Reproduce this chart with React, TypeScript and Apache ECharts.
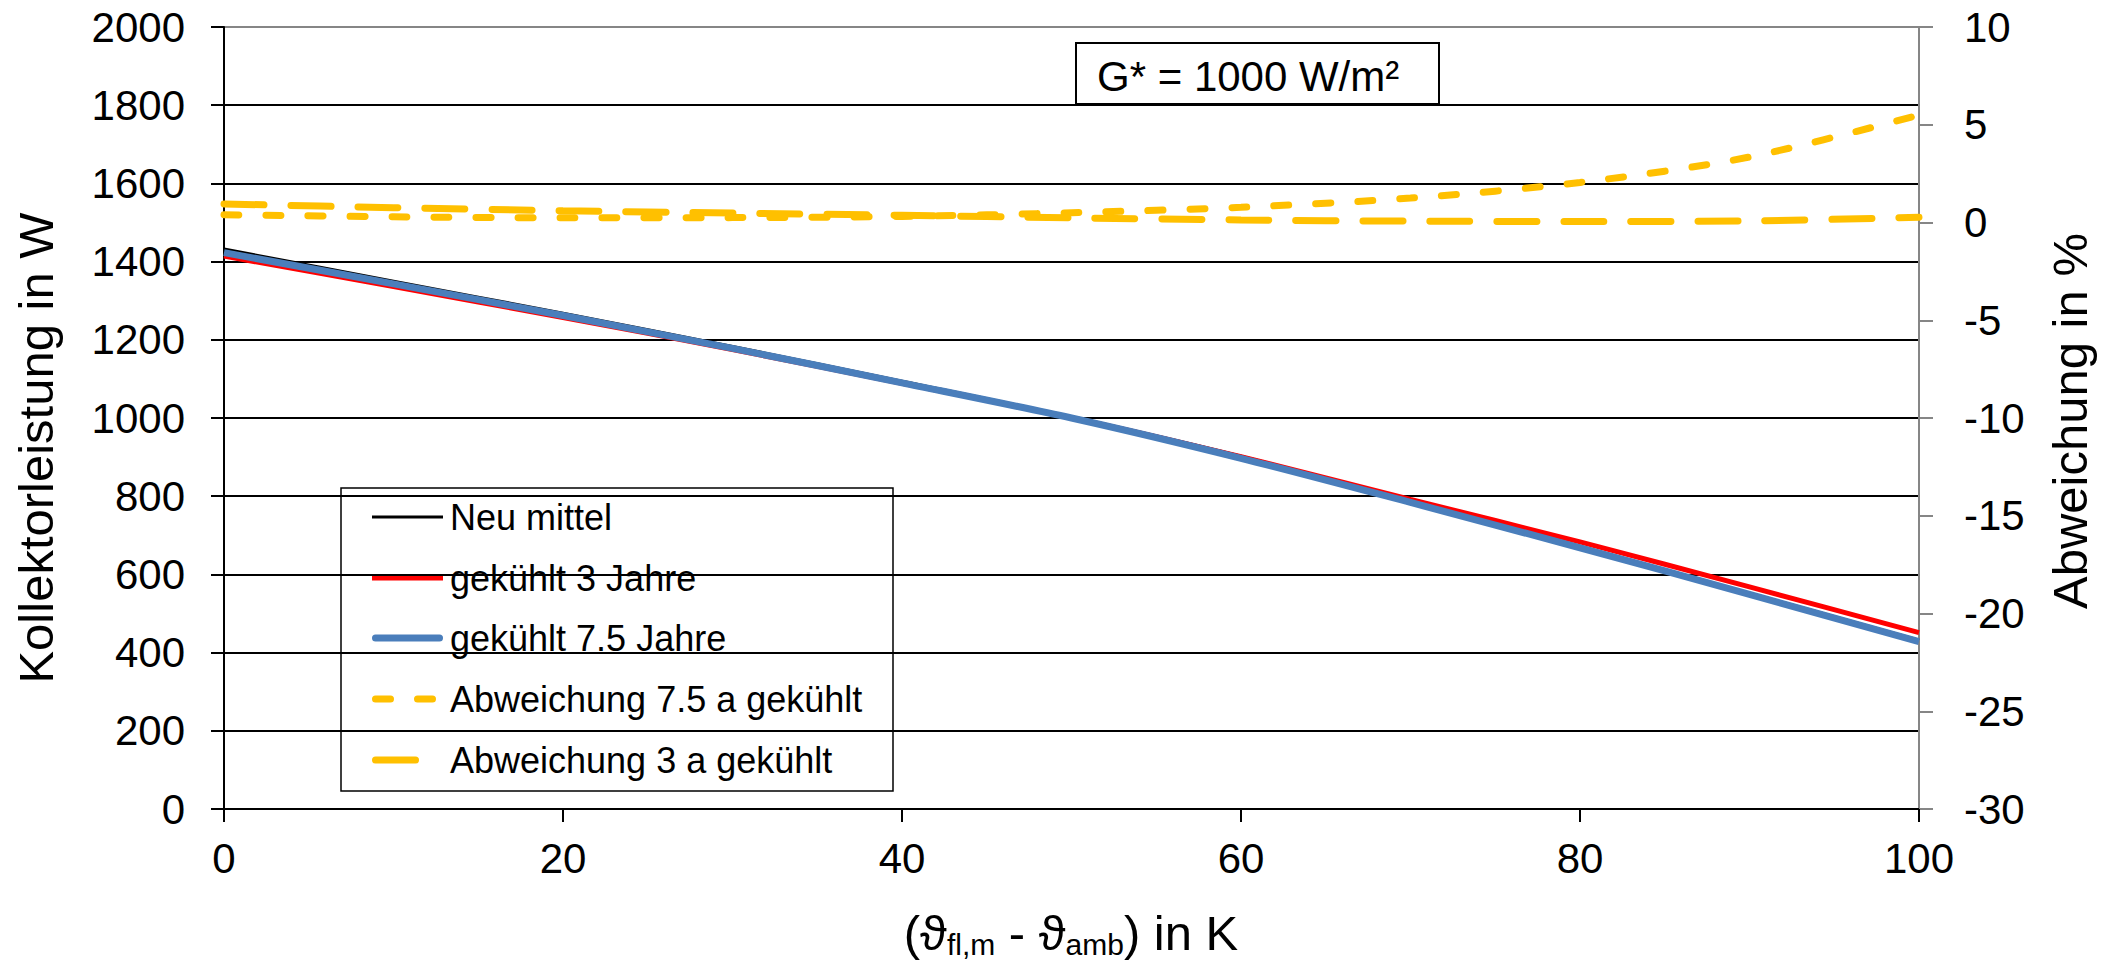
import React, { useEffect, useRef } from 'react';
import * as echarts from 'echarts';

const tempDiff = [0, 10, 20, 30, 40, 50, 60, 70, 80, 90, 100];
const neuMittel = [1432, 1350, 1268, 1183, 1094, 1003, 902, 788, 672, 552, 432];
const gekuehlt3 = [1414, 1336, 1257, 1175, 1089, 1001, 901, 792, 683, 568, 451];
const gekuehlt75 = [1423, 1343, 1262, 1178, 1090, 1000, 897, 784, 668, 549, 428];
const abw75 = [0.4, 0.29, 0.24, 0.25, 0.31, 0.5, 0.78, 1.25, 2.05, 3.35, 5.5];
const abw3 = [0.95, 0.76, 0.6, 0.48, 0.37, 0.24, 0.13, 0.07, 0.05, 0.08, 0.27];

const seriesNames = [
  'Neu mittel',
  'gekühlt 3 Jahre',
  'gekühlt 7.5 Jahre',
  'Abweichung 7.5 a gekühlt',
  'Abweichung 3 a gekühlt',
];
const boxLabel = 'G* = 1000 W/m²';
const yLeftTitle = 'Kollektorleistung in W';
const yRightTitle = 'Abweichung in %';

const FONT = '"Liberation Sans", Arial, sans-serif';
const ORANGE = '#FFC000';
const BLUE = '#4A7EBB';

const zip = (xs: number[], ys: number[]) => xs.map((x, i) => [x, ys[i]]);

export default function App() {
  const ref = useRef<HTMLDivElement>(null);
  useEffect(() => {
    if (!ref.current) return;
    const chart = echarts.init(ref.current, undefined, { renderer: 'svg' });
    const gridColors = ['#000', '#000', '#000', '#000', '#000', '#000', '#000', '#000', '#000', '#000', '#868686'];
    const legendRows = [517, 578, 638, 699, 760];
    const legendLines: any[] = [
      { type: 'line', shape: { x1: 372, y1: legendRows[0], x2: 443, y2: legendRows[0] }, style: { stroke: '#000', lineWidth: 3 } },
      { type: 'line', shape: { x1: 372, y1: legendRows[1], x2: 443, y2: legendRows[1] }, style: { stroke: '#FF0000', lineWidth: 5 } },
      { type: 'line', shape: { x1: 375.5, y1: legendRows[2], x2: 439.5, y2: legendRows[2] }, style: { stroke: BLUE, lineWidth: 7, lineCap: 'round' } },
      { type: 'line', shape: { x1: 375.5, y1: legendRows[3], x2: 433.5, y2: legendRows[3] }, style: { stroke: ORANGE, lineWidth: 7, lineCap: 'round', lineDash: [15, 27] } },
      { type: 'line', shape: { x1: 375.5, y1: legendRows[4], x2: 415.5, y2: legendRows[4] }, style: { stroke: ORANGE, lineWidth: 7, lineCap: 'round' } },
    ];
    const legendTexts = seriesNames.map((n, i) => ({
      type: 'text',
      x: 450,
      y: legendRows[i],
      style: { text: n, font: `36px ${FONT}`, fill: '#000', align: 'left', verticalAlign: 'middle' },
    }));

    chart.setOption({
      animation: false,
      backgroundColor: '#fff',
      textStyle: { fontFamily: FONT },
      grid: { left: 224, right: 196, top: 27, bottom: 161, containLabel: false, outerBoundsMode: 'none' },
      xAxis: {
        type: 'value',
        min: 0,
        max: 100,
        interval: 20,
        axisLine: { show: true, onZero: false, lineStyle: { color: '#000', width: 2 } },
        axisTick: { show: true, length: 13, lineStyle: { color: '#000', width: 2 } },
        axisLabel: { color: '#000', fontSize: 42, margin: 28, fontFamily: FONT, formatter: (v: number) => String(v) },
        splitLine: { show: false },
      },
      yAxis: [
        {
          type: 'value',
          min: 0,
          max: 2000,
          interval: 200,
          position: 'left',
          axisLine: { show: true, lineStyle: { color: '#000', width: 2 } },
          axisTick: { show: true, length: 13, lineStyle: { color: '#000', width: 2 } },
          axisLabel: { color: '#000', fontSize: 42, margin: 39, fontFamily: FONT, formatter: (v: number) => String(v) },
          splitLine: { show: true, lineStyle: { color: gridColors, width: 2 } },
        },
        {
          type: 'value',
          min: -30,
          max: 10,
          interval: 5,
          position: 'right',
          axisLine: { show: true, lineStyle: { color: '#868686', width: 2 } },
          axisTick: { show: true, length: 14, lineStyle: { color: '#868686', width: 2 } },
          axisLabel: { color: '#000', fontSize: 42, margin: 45, align: 'left', fontFamily: FONT, formatter: (v: number) => String(v) },
          splitLine: { show: false },
        },
      ],
      series: [
        {
          type: 'line', name: seriesNames[3], yAxisIndex: 1, data: zip(tempDiff, abw75),
          symbol: 'none', smooth: 0.3, z: 3,
          lineStyle: { color: ORANGE, width: 7, type: [15, 27], cap: 'round' },
        },
        {
          type: 'line', name: seriesNames[4], yAxisIndex: 1, data: zip(tempDiff, abw3),
          symbol: 'none', smooth: 0.3, z: 3,
          lineStyle: { color: ORANGE, width: 7, type: [40, 27], cap: 'round' },
        },
        {
          type: 'line', name: seriesNames[0], yAxisIndex: 0, data: zip(tempDiff, neuMittel),
          symbol: 'none', smooth: 0.3, z: 4,
          lineStyle: { color: '#000', width: 3 },
        },
        {
          type: 'line', name: seriesNames[1], yAxisIndex: 0, data: zip(tempDiff, gekuehlt3),
          symbol: 'none', smooth: 0.3, z: 5,
          lineStyle: { color: '#FF0000', width: 5 },
        },
        {
          type: 'line', name: seriesNames[2], yAxisIndex: 0, data: zip(tempDiff, gekuehlt75),
          symbol: 'none', smooth: 0.3, z: 6,
          lineStyle: { color: BLUE, width: 7 },
        },
      ],
      graphic: [
        {
          type: 'group',
          z: 100,
          children: [
            { type: 'rect', shape: { x: 341, y: 488, width: 552, height: 303 }, style: { fill: '#fff', stroke: '#000', lineWidth: 1.5 } },
            ...legendLines,
            ...legendTexts,
            { type: 'rect', shape: { x: 1076, y: 43, width: 363, height: 61 }, style: { fill: '#fff', stroke: '#000', lineWidth: 2 } },
            { type: 'text', x: 1097, y: 76, style: { text: boxLabel, font: `42px ${FONT}`, fill: '#000', align: 'left', verticalAlign: 'middle' } },
            {
              type: 'text', x: 36, y: 448, rotation: Math.PI / 2,
              style: { text: yLeftTitle, font: `49px ${FONT}`, fill: '#000', align: 'center', verticalAlign: 'middle' },
            },
            {
              type: 'text', x: 2070, y: 421, rotation: Math.PI / 2,
              style: { text: yRightTitle, font: `49px ${FONT}`, fill: '#000', align: 'center', verticalAlign: 'middle' },
            },
            {
              type: 'text', x: 1071, y: 933.5,
              style: {
                text: '{m|(ϑ}{s|fl,m}{m| - ϑ}{s|amb}{m|) in K}',
                align: 'center',
                verticalAlign: 'middle',
                fill: '#000',
                rich: {
                  m: { fontSize: 49, fontFamily: FONT, verticalAlign: 'top', lineHeight: 50, fill: '#000' },
                  s: { fontSize: 30, fontFamily: FONT, verticalAlign: 'top', lineHeight: 30, padding: [21, 0, 0, 0], fill: '#000' },
                },
              },
            },
          ],
        },
      ],
    });
    return () => chart.dispose();
  }, []);
  return (
    <div
      ref={ref}
      style={{ position: 'fixed', left: 0, top: 0, width: 2115, height: 970, background: '#fff' }}
    />
  );
}
